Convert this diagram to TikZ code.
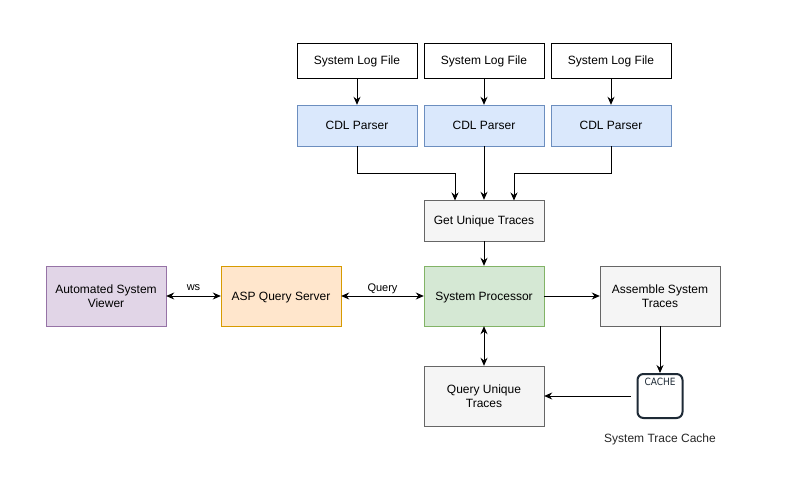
\documentclass[tikz,border=0pt]{standalone}
\usepackage{fontspec}
\setmainfont{Liberation Sans}
\newfontfamily\cachefont{DejaVu Sans Condensed}
\usetikzlibrary{arrows.meta}
\definecolor{bluef}{HTML}{DAE8FC}\definecolor{blued}{HTML}{6C8EBF}
\definecolor{greyf}{HTML}{F5F5F5}\definecolor{greyd}{HTML}{666666}
\definecolor{greenf}{HTML}{D5E8D4}\definecolor{greend}{HTML}{82B366}
\definecolor{orangef}{HTML}{FFE6CC}\definecolor{oranged}{HTML}{D79B00}
\definecolor{purplef}{HTML}{E1D5E7}\definecolor{purpled}{HTML}{9673A6}
\definecolor{cachec}{HTML}{1E2A36}
\begin{document}
\begin{tikzpicture}[x=1pt,y=-1pt,
  box/.style={draw, minimum width=120pt, align=center, font=\fontsize{12}{14}\selectfont, inner sep=0pt, text depth=0pt},
  small/.style={box, minimum height=35pt},
  mid/.style={box, minimum height=41pt},
  big/.style={box, minimum height=60pt},
  arr/.style={-{Stealth[length=8pt,width=7pt]}, line width=0.9pt},
  barr/.style={{Stealth[length=8pt,width=7pt]}-{Stealth[length=8pt,width=7pt]}, line width=0.9pt},
  lbl/.style={font=\fontsize{11}{13}\selectfont}]
\useasboundingbox (0,0) rectangle (800,482);
\fill[white] (0,0) rectangle (800,482);
% log files
\node[small, draw=black, fill=white] (log1) at (357,60.5) {System Log File};
\node[small, draw=black, fill=white] (log2) at (484,60.5) {System Log File};
\node[small, draw=black, fill=white] (log3) at (611,60.5) {System Log File};
% parsers
\node[mid, draw=blued, fill=bluef] (cdl1) at (357,125.5) {CDL Parser};
\node[mid, draw=blued, fill=bluef] (cdl2) at (484,125.5) {CDL Parser};
\node[mid, draw=blued, fill=bluef] (cdl3) at (611,125.5) {CDL Parser};
% get unique
\node[mid, draw=greyd, fill=greyf] (get) at (484,220.5) {Get Unique Traces};
% row
\node[big, draw=greend, fill=greenf] (sp) at (484,296) {System Processor};
\node[big, draw=oranged, fill=orangef] (asp) at (281,296) {ASP Query Server};
\node[big, draw=purpled, fill=purplef] (asv) at (106,296) {Automated System\\Viewer};
\node[big, draw=greyd, fill=greyf] (ast) at (660,296) {Assemble System\\Traces};
\node[big, draw=greyd, fill=greyf] (qut) at (484,396) {Query Unique\\Traces};
% cache
\node[draw=cachec, line width=2pt, rounded corners=6pt, minimum width=45pt, minimum height=44pt, inner sep=0pt] (cache) at (660,396) {};
\node[font=\cachefont\fontsize{10}{11}\selectfont, text=cachec, anchor=north, inner sep=0pt] (cachetxt) at ([yshift=-5pt]cache.north) {CACHE};
\node[font=\fontsize{12}{14}\selectfont, text=black!85] (cachelbl) at (660,439) {System Trace Cache};
% connectors
\draw[arr] (log1) -- (cdl1);
\draw[arr] (log2) -- (cdl2);
\draw[arr] (log3) -- (cdl3);
\coordinate (j1) at (455,200.5);
\coordinate (j3) at (514,200.5);
\draw[arr] (cdl1.south) |- (455,173) -- (j1);
\draw[arr] (cdl2) -- (get);
\draw[arr] (cdl3.south) |- (514,173) -- (j3);
\draw[arr] (get) -- (sp);
\draw[barr] (sp) -- (qut);
\draw[arr] (sp) -- (ast);
\draw[arr] (ast) -- (cache);
\draw[arr] ([xshift=-6pt]cache.west) -- (qut);
\draw[barr] (asp) -- node[lbl, above=-2pt] {Query} (sp);
\draw[barr] (asv) -- node[lbl, above=2pt] {ws} (asp);
\end{tikzpicture}
\end{document}
